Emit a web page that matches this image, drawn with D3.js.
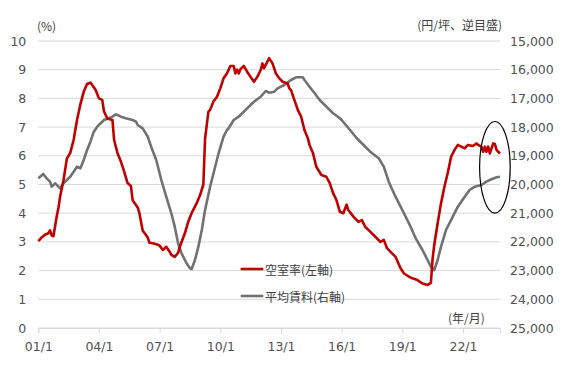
<!DOCTYPE html>
<html>
<head>
<meta charset="utf-8">
<script src="https://cdn.jsdelivr.net/npm/d3@7"></script>
<style>
  body { margin: 0; background: #fff; }
  .axis text { font-family: "DejaVu Sans", Verdana, sans-serif; font-size: 12.5px; fill: #505050; }
  .label { font-family: "Noto Sans CJK JP", sans-serif; font-size: 12px; fill: #404040; }
</style>
</head>
<body>
<svg id="chart" width="567" height="377"></svg>
<script>
// 空室率 (%), left axis
const vacancyRate = [
  ["2001-01", 3.03], ["2001-03", 3.15], ["2001-05", 3.25], ["2001-07", 3.3], ["2001-08", 3.4],
  ["2001-09", 3.22], ["2001-10", 3.2], ["2001-12", 3.9], ["2002-01", 4.2], ["2002-02", 4.6],
  ["2002-04", 5.15], ["2002-06", 5.9], ["2002-08", 6.1], ["2002-10", 6.55], ["2002-12", 7.25],
  ["2003-02", 7.8], ["2003-04", 8.23], ["2003-06", 8.5], ["2003-08", 8.55], ["2003-09", 8.47],
  ["2003-11", 8.3], ["2004-01", 8.0], ["2004-03", 7.95], ["2004-04", 7.55], ["2004-06", 7.3],
  ["2004-09", 7.25], ["2004-10", 6.55], ["2004-12", 6.1], ["2005-02", 5.8], ["2005-04", 5.45],
  ["2005-06", 5.05], ["2005-08", 4.95], ["2005-09", 4.45], ["2005-12", 4.2], ["2006-01", 4.0],
  ["2006-03", 3.4], ["2006-06", 3.15], ["2006-07", 2.97], ["2006-09", 2.95], ["2006-12", 2.9],
  ["2007-01", 2.87], ["2007-03", 2.72], ["2007-05", 2.83], ["2007-07", 2.66], ["2007-08", 2.55],
  ["2007-10", 2.48], ["2007-12", 2.62], ["2008-01", 2.83], ["2008-04", 3.3], ["2008-06", 3.7],
  ["2008-08", 4.0], ["2008-11", 4.35], ["2009-01", 4.63], ["2009-03", 5.0], ["2009-04", 6.6],
  ["2009-06", 7.54], ["2009-07", 7.6], ["2009-09", 7.9], ["2009-11", 8.05], ["2010-01", 8.35],
  ["2010-03", 8.7], ["2010-05", 8.87], ["2010-07", 9.13], ["2010-09", 9.13], ["2010-10", 8.87],
  ["2010-11", 9.0], ["2010-12", 8.87], ["2011-01", 9.02], ["2011-03", 9.13], ["2011-05", 8.93],
  ["2011-07", 8.75], ["2011-09", 8.58], ["2011-11", 8.75], ["2012-01", 8.99], ["2012-02", 9.22],
  ["2012-03", 9.05], ["2012-05", 9.28], ["2012-06", 9.4], ["2012-08", 9.22], ["2012-10", 8.87],
  ["2012-12", 8.7], ["2013-02", 8.58], ["2013-05", 8.52], ["2013-06", 8.35], ["2013-07", 8.29],
  ["2013-09", 7.94], ["2013-11", 7.6], ["2014-01", 7.36], ["2014-03", 6.9], ["2014-05", 6.61],
  ["2014-06", 6.38], ["2014-08", 6.1], ["2014-10", 5.62], ["2015-01", 5.33], ["2015-04", 5.27],
  ["2015-06", 5.05], ["2015-08", 4.7], ["2015-10", 4.45], ["2015-12", 4.05], ["2016-02", 4.0],
  ["2016-04", 4.3], ["2016-05", 4.11], ["2016-08", 3.88], ["2016-11", 3.7], ["2017-01", 3.76],
  ["2017-03", 3.53], ["2017-06", 3.36], ["2017-09", 3.18], ["2017-12", 3.0], ["2018-02", 3.07],
  ["2018-04", 2.78], ["2018-07", 2.6], ["2018-09", 2.48], ["2018-12", 2.08], ["2019-02", 1.9],
  ["2019-05", 1.79], ["2019-07", 1.73], ["2019-10", 1.67], ["2020-01", 1.55], ["2020-04", 1.5],
  ["2020-06", 1.57], ["2020-07", 2.4], ["2020-08", 2.9], ["2020-10", 3.65], ["2020-12", 4.35],
  ["2021-02", 4.93], ["2021-04", 5.4], ["2021-06", 5.97], ["2021-08", 6.2], ["2021-10", 6.38],
  ["2021-12", 6.32], ["2022-02", 6.26], ["2022-04", 6.38], ["2022-07", 6.34], ["2022-09", 6.43],
  ["2022-10", 6.38], ["2022-12", 6.32], ["2023-01", 6.14], ["2023-02", 6.32], ["2023-03", 6.14],
  ["2023-04", 6.32], ["2023-05", 6.08], ["2023-07", 6.43], ["2023-08", 6.41], ["2023-09", 6.2],
  ["2023-11", 6.08]
];

// 平均賃料 (円/坪), right axis (reversed)
const avgRent = [
  ["2001-01", 19784], ["2001-04", 19634], ["2001-06", 19784], ["2001-08", 19902], ["2001-09", 20077],
  ["2001-11", 19958], ["2002-01", 20077], ["2002-02", 20132], ["2002-04", 19958], ["2002-06", 19843],
  ["2002-08", 19728], ["2002-10", 19554], ["2002-12", 19380], ["2003-02", 19435], ["2003-04", 19146],
  ["2003-06", 18798], ["2003-08", 18508], ["2003-10", 18160], ["2003-12", 17986], ["2004-02", 17867],
  ["2004-04", 17752], ["2004-07", 17693], ["2004-09", 17637], ["2004-11", 17554], ["2005-02", 17637],
  ["2005-05", 17693], ["2005-09", 17752], ["2005-11", 17812], ["2005-12", 17927], ["2006-03", 18042],
  ["2006-06", 18334], ["2006-08", 18683], ["2006-11", 19146], ["2007-02", 19843], ["2007-05", 20425],
  ["2007-08", 21003], ["2007-10", 21470], ["2007-12", 22048], ["2008-02", 22397], ["2008-05", 22745],
  ["2008-07", 22919], ["2008-08", 22944], ["2008-10", 22630], ["2008-12", 22167], ["2009-02", 21585],
  ["2009-04", 20888], ["2009-07", 20076], ["2009-09", 19609], ["2009-12", 18913], ["2010-03", 18334],
  ["2010-05", 18101], ["2010-06", 18041], ["2010-09", 17752], ["2010-12", 17637], ["2011-01", 17578],
  ["2011-05", 17345], ["2011-09", 17115], ["2012-01", 16941], ["2012-04", 16742], ["2012-06", 16801],
  ["2012-09", 16766], ["2012-11", 16648], ["2013-03", 16533], ["2013-07", 16359], ["2013-10", 16265],
  ["2014-02", 16265], ["2014-03", 16359], ["2014-06", 16592], ["2014-09", 16822], ["2014-12", 17056],
  ["2015-04", 17289], ["2015-08", 17519], ["2015-12", 17693], ["2016-01", 17752], ["2016-06", 18101],
  ["2016-10", 18390], ["2017-02", 18623], ["2017-06", 18857], ["2017-11", 19087], ["2018-02", 19379],
  ["2018-05", 19902], ["2018-09", 20425], ["2019-01", 20888], ["2019-05", 21351], ["2019-09", 21874],
  ["2020-01", 22282], ["2020-04", 22630], ["2020-06", 22864], ["2020-08", 22979], ["2020-10", 22630],
  ["2020-12", 22167], ["2021-03", 21585], ["2021-07", 21121], ["2021-10", 20773], ["2022-02", 20425],
  ["2022-05", 20191], ["2022-08", 20076], ["2022-12", 20017], ["2023-03", 19902], ["2023-06", 19818],
  ["2023-09", 19749], ["2023-11", 19728]
];

const xTickDates = ["2001-01", "2004-01", "2007-01", "2010-01", "2013-01", "2016-01", "2019-01", "2022-01"];
const leftTicks = [0, 1, 2, 3, 4, 5, 6, 7, 8, 9, 10];
const rightTicks = [15000, 16000, 17000, 18000, 19000, 20000, 21000, 22000, 23000, 24000, 25000];
const xDomain = ["2001-01", "2023-11"];

// highlighted recent period (ellipse)
const highlight = { date: "2023-08", rent: 19400 };

const parse = d3.timeParse("%Y-%m");
const svg = d3.select("#chart");

const plotLeft = 38.3, plotRight = 500, plotTop = 41, plotBottom = 328;

const x = d3.scaleTime()
  .domain(xDomain.map(parse))
  .range([plotLeft, plotRight]);
const yL = d3.scaleLinear().domain([0, 10]).range([plotBottom, plotTop]);
const yR = d3.scaleLinear().domain([15000, 25000]).range([plotTop, plotBottom]);

// gridlines
svg.append("g")
  .selectAll("line")
  .data(leftTicks)
  .enter().append("line")
  .attr("x1", plotLeft).attr("x2", plotRight)
  .attr("y1", d => yL(d)).attr("y2", d => yL(d))
  .attr("stroke", "#d9d9d9")
  .attr("stroke-width", 1);

// left axis
const axL = svg.append("g")
  .attr("class", "axis")
  .attr("transform", `translate(${plotLeft},0)`)
  .call(d3.axisLeft(yL).tickValues(leftTicks).tickSize(0).tickPadding(12));
axL.select(".domain").remove();

// right axis
const axR = svg.append("g")
  .attr("class", "axis")
  .attr("transform", `translate(${plotRight},0)`)
  .call(d3.axisRight(yR).tickValues(rightTicks).tickFormat(d3.format(",")).tickSize(0).tickPadding(10));
axR.select(".domain").remove();

// bottom axis
const axB = svg.append("g")
  .attr("class", "axis")
  .attr("transform", `translate(0,${plotBottom})`)
  .call(d3.axisBottom(x).tickValues(xTickDates.map(parse))
    .tickFormat(d3.timeFormat("%y/%-m")).tickSize(5).tickPadding(9.3));
axB.select(".domain").attr("stroke", "#d9d9d9");
axB.selectAll(".tick line").attr("stroke", "#d9d9d9");

// series
const rentLine = d3.line()
  .x(d => x(parse(d[0])))
  .y(d => yR(d[1]));
const vacLine = d3.line()
  .x(d => x(parse(d[0])))
  .y(d => yL(d[1]));

svg.append("path")
  .datum(avgRent)
  .attr("d", rentLine)
  .attr("fill", "none")
  .attr("stroke", "#717171")
  .attr("stroke-width", 2.6)
  .attr("stroke-linejoin", "round");

svg.append("path")
  .datum(vacancyRate)
  .attr("d", vacLine)
  .attr("fill", "none")
  .attr("stroke", "#c00000")
  .attr("stroke-width", 2.6)
  .attr("stroke-linejoin", "round");

// ellipse annotation
svg.append("ellipse")
  .attr("cx", x(parse(highlight.date)))
  .attr("cy", yR(highlight.rent))
  .attr("rx", 15.3)
  .attr("ry", 45.8)
  .attr("fill", "none")
  .attr("stroke", "#000")
  .attr("stroke-width", 1.2);

// axis titles
svg.append("text").attr("class", "label")
  .attr("x", 37).attr("y", 25).attr("dominant-baseline", "central")
  .text("(%)");
svg.append("text").attr("class", "label")
  .attr("x", 502).attr("y", 24).attr("dominant-baseline", "central")
  .attr("text-anchor", "end")
  .text("(円/坪、逆目盛)");
svg.append("text").attr("class", "label")
  .attr("x", 448).attr("y", 317).attr("dominant-baseline", "central")
  .text("(年/月)");

// legend
const legend = [
  { name: "空室率(左軸)", color: "#c00000", y: 269 },
  { name: "平均賃料(右軸)", color: "#717171", y: 296 }
];
const lg = svg.append("g");
legend.forEach(l => {
  lg.append("line")
    .attr("x1", 240.7).attr("x2", 263.3)
    .attr("y1", l.y).attr("y2", l.y)
    .attr("stroke", l.color).attr("stroke-width", 2.6);
  lg.append("text").attr("class", "label")
    .attr("x", 265).attr("y", l.y).attr("dominant-baseline", "central")
    .text(l.name);
});
</script>
</body>
</html>
